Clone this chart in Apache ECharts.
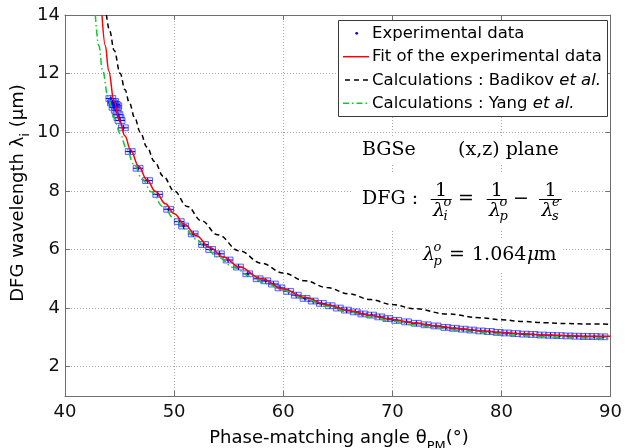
<!DOCTYPE html>
<html><head><meta charset="utf-8">
<script src="https://cdn.jsdelivr.net/npm/echarts@6/dist/echarts.min.js"></script>
<style>html,body{margin:0;padding:0;background:#fff}#c{width:625px;height:448px}</style>
</head><body><div id="c"></div>
<script>
// ---- data ----
const xTicks = [40, 50, 60, 70, 80, 90];
const yTicks = [2, 4, 6, 8, 10, 12, 14];

const expTheta = [44.2, 44.35, 44.45, 44.5, 44.6, 44.7, 44.75, 44.85, 44.95, 45.05, 45.35,
  45.98, 46.7, 47.57, 48.5, 49.5, 50.47, 50.87, 51.75, 52.7, 53.35, 54.15, 54.95, 55.9, 56.75,
  57.7, 58.4, 59.1, 59.7, 60.5, 61.2, 62.0, 62.75, 63.5, 64.3, 65.05, 65.8, 66.6, 67.3, 68.1,
  68.85, 69.6, 70.4, 71.3, 72.2, 73.1, 74.0, 74.9, 75.7, 76.5, 77.3, 78.1, 78.9, 79.7, 80.5,
  81.3, 82.1, 82.9, 83.7, 84.5, 85.3, 86.1, 86.9, 87.7, 88.5, 89.3];
const expLambda = [11.15, 11.0, 11.05, 10.85, 10.95, 10.75, 10.9, 10.6, 10.5, 10.4, 10.15,
  9.34, 8.77, 8.35, 7.88, 7.37, 6.95, 6.8, 6.53, 6.17, 6.0, 5.85, 5.64, 5.4, 5.17,
  5.0, 4.93, 4.82, 4.69, 4.57, 4.44, 4.33, 4.24, 4.16, 4.08, 4.0, 3.93, 3.87, 3.8, 3.76,
  3.7, 3.64, 3.58, 3.53, 3.48, 3.43, 3.39, 3.34, 3.31, 3.28, 3.25, 3.22, 3.2, 3.17, 3.15,
  3.13, 3.11, 3.1, 3.08, 3.07, 3.06, 3.05, 3.04, 3.03, 3.03, 3.02];
const errTheta = 0.45;   // half-width of the angle error bar (deg)
const errLambda = 0.1;   // half-height of the wavelength error bar (um)

const fitTheta = [43.39, 43.7, 44.0, 44.5, 45.0, 45.5, 46.0, 46.75, 47.5, 48.3, 49.2, 50.0, 51.0,
  52.0, 53.3, 54.5, 56, 58, 60, 62, 64, 66, 68, 70, 72, 74, 76, 78, 80, 82, 84, 86, 88, 90];
const fitLambda = [14, 12.95, 12.1, 11.05, 10.4, 9.87, 9.4, 8.84, 8.38, 7.98, 7.56, 7.22, 6.84,
  6.48, 6.06, 5.74, 5.40, 5.0, 4.65, 4.36, 4.11, 3.91, 3.75, 3.61, 3.49, 3.39, 3.30, 3.23, 3.17,
  3.12, 3.08, 3.06, 3.04, 3.035];

const badikovTheta = [43.8, 44.1, 44.5, 45.06, 45.5, 45.9, 46.4, 46.9, 47.5, 48.2, 49.0, 50, 51.2,
  52.5, 54, 56, 58, 60, 62, 64, 66, 68, 70, 72, 75, 78, 80, 82, 84, 86, 88, 90];
const badikovLambda = [14, 13.45, 12.8, 12.0, 11.45, 11.0, 10.48, 10.0, 9.5, 9.0, 8.5, 8.0, 7.47,
  6.98, 6.5, 5.95, 5.53, 5.2, 4.93, 4.7, 4.49, 4.29, 4.12, 3.98, 3.8, 3.67, 3.6, 3.54, 3.5, 3.47,
  3.455, 3.45];

const yangTheta = [42.78, 43.1, 43.45, 43.95, 44.5, 45.06, 45.6, 46.3, 47.1, 47.9, 49.0, 50.0,
  51.0, 52.0, 52.9, 54.0, 55.5, 57, 58.5, 60, 62, 64, 66, 68, 70, 72, 74, 76, 78, 80, 82, 84,
  86, 88, 90];
const yangLambda = [14, 12.95, 12.1, 11.2, 10.5, 9.95, 9.47, 8.92, 8.39, 7.97, 7.46, 7.06,
  6.7, 6.36, 6.05, 5.74, 5.38, 5.08, 4.83, 4.6, 4.31, 4.06, 3.86, 3.69, 3.55, 3.43, 3.33, 3.24,
  3.17, 3.11, 3.06, 3.02, 2.99, 2.975, 2.97];

// ---- chart ----
const pairs = (a, b) => a.map((v, i) => [v, b[i]]);
const AX = '#6e6e6e', LBL = '#111', SANS = 'DejaVu Sans', SERIF = 'DejaVu Serif';

function baseX(pos, labels) {
  return {
    type: 'value', position: pos, min: 40, max: 90, interval: 10,
    axisLine: { show: true, onZero: false, lineStyle: { color: AX, width: 1 } },
    axisTick: { show: true, inside: true, length: 5, lineStyle: { color: AX } },
    axisLabel: { show: labels, color: LBL, fontFamily: SANS, fontSize: 18, margin: 7 },
    splitLine: { show: labels, lineStyle: { color: '#a8a8a8', type: [1, 2], width: 1 } }
  };
}
function baseY(pos, labels) {
  return {
    type: 'value', position: pos, min: 1, max: 14, minInterval: 2, maxInterval: 2, splitNumber: 6,
    axisLine: { show: true, onZero: false, lineStyle: { color: AX, width: 1 } },
    axisTick: { show: true, inside: true, length: 5, lineStyle: { color: AX } },
    axisLabel: { show: labels, color: LBL, fontFamily: SANS, fontSize: 18, margin: 5,
      formatter: v => (yTicks.indexOf(v) >= 0 ? String(v) : '') },
    splitLine: { show: labels, lineStyle: { color: '#a8a8a8', type: [1, 2], width: 1 } }
  };
}

function t(x, y, text, o) {
  o = o || {};
  return {
    type: 'text', x: x, y: y, rotation: o.rot || 0, z: 100,
    style: {
      text: text, fill: o.fill || '#000',
      fontFamily: o.family || SERIF, fontSize: o.size || 19, fontStyle: o.italic ? 'italic' : 'normal',
      align: o.align || 'left', textAlign: o.align || 'left',
      verticalAlign: 'middle', textVerticalAlign: 'middle',
      rich: o.rich
    }
  };
}
function bar(x1, x2, y) {
  return { type: 'line', z: 100, shape: { x1: x1, y1: y, x2: x2, y2: y }, style: { stroke: '#000', lineWidth: 1 } };
}
function box(x, y, w, h) {
  return { type: 'rect', z: 99, shape: { x: x, y: y, width: w, height: h }, style: { fill: '#fff' } };
}
function lam(x, yBase, sub, sup) {
  return [
    t(x, yBase, 'λ', { italic: true, size: 19 }),
    t(x + 10.5, yBase + 6, sub, { italic: true, size: 13 }),
    t(x + 10.5, yBase - 8, sup, { italic: true, size: 13 })
  ];
}

const graphics = [
  box(356, 138, 210, 25), box(353, 173, 217, 57), box(419, 239, 142, 33),
  t(362, 150, 'BGSe'), t(458, 150, '(x,z) plane'),
  t(362, 199, 'DFG :'),
  t(441, 191, '1', { align: 'center' }), bar(430.7, 451.7, 199.5), ...lam(433, 211, 'i', 'o'),
  t(458, 199, '='),
  t(496.7, 191, '1', { align: 'center' }), bar(486.7, 506.7, 199.5), ...lam(489, 211, 'p', 'o'),
  t(513, 199, '−'),
  t(550.5, 191, '1', { align: 'center' }), bar(539, 561.7, 199.5), ...lam(541.5, 211, 's', 'e'),
  ...lam(423, 255.5, 'p', 'o'),
  t(449, 255, '='), t(472, 255, '1.064'), t(527, 255, 'μ', { italic: true }), t(538.5, 255, 'm'),
  // legend
  { type: 'rect', z: 110, shape: { x: 338.5, y: 20.5, width: 269, height: 96 },
    style: { fill: '#fff', stroke: '#3a3a3a', lineWidth: 1 } },
  { type: 'circle', z: 111, shape: { cx: 356.7, cy: 33.3, r: 1.4 }, style: { fill: '#0000ff' } },
  { type: 'line', z: 111, shape: { x1: 343, y1: 56.7, x2: 369, y2: 56.7 }, style: { stroke: '#ff0000', lineWidth: 1.5 } },
  { type: 'line', z: 111, shape: { x1: 345, y1: 80, x2: 369, y2: 80 }, style: { stroke: '#000', lineWidth: 1.5, lineDash: [5, 4] } },
  { type: 'line', z: 111, shape: { x1: 343, y1: 103.3, x2: 369, y2: 103.3 }, style: { stroke: '#10c830', lineWidth: 1.5, lineDash: [6, 3, 1.5, 3] } },
  Object.assign(t(372, 33.5, 'Experimental data', { family: SANS, size: 16.5 }), { z: 112 }),
  Object.assign(t(372, 57, 'Fit of the experimental data', { family: SANS, size: 16.5 }), { z: 112 }),
  Object.assign(t(372, 80.3, '{a|Calculations : Badikov }{b|et al.}', { family: SANS, size: 16.5,
    rich: { a: { fontFamily: SANS, fontSize: 16.5 }, b: { fontFamily: SANS, fontSize: 16.5, fontStyle: 'italic' } } }), { z: 112 }),
  Object.assign(t(372, 103.6, '{a|Calculations : Yang }{b|et al.}', { family: SANS, size: 16.5,
    rich: { a: { fontFamily: SANS, fontSize: 16.5 }, b: { fontFamily: SANS, fontSize: 16.5, fontStyle: 'italic' } } }), { z: 112 }),
  // axis titles
  t(339, 438, '{m|Phase-matching angle θ}{s|PM}{m|(°)}', { family: SANS, size: 18, align: 'center',
    rich: { m: { fontFamily: SANS, fontSize: 18, lineHeight: 30, verticalAlign: 'middle' },
            s: { fontFamily: SANS, fontSize: 13, lineHeight: 13, verticalAlign: 'bottom' } } }),
  t(18, 193, '{m|DFG wavelength λ}{s|i}{m| (μm)}', { family: SANS, size: 18, align: 'center', rot: Math.PI / 2,
    rich: { m: { fontFamily: SANS, fontSize: 18, lineHeight: 28, verticalAlign: 'middle' },
            s: { fontFamily: SANS, fontSize: 13, lineHeight: 13, verticalAlign: 'bottom' } } })
];

const chart = echarts.init(document.getElementById('c'), null, { renderer: 'canvas' });
chart.setOption({
  animation: false,
  backgroundColor: '#fff',
  grid: { left: 65, right: 13, top: 15, bottom: 52, containLabel: false },
  xAxis: [baseX('bottom', true), baseX('top', false)],
  yAxis: [baseY('left', true), baseY('right', false)],
  series: [
    {
      name: 'Error bars', type: 'custom', xAxisIndex: 0, yAxisIndex: 0, clip: true, z: 2,
      data: pairs(expTheta, expLambda),
      renderItem: function (params, api) {
        const x = api.value(0), y = api.value(1);
        const c = api.coord([x, y]);
        const l = api.coord([x - errTheta, y]), r = api.coord([x + errTheta, y]);
        const tp = api.coord([x, y + errLambda]), bt = api.coord([x, y - errLambda]);
        return {
          type: 'group', children: [
            { type: 'rect', shape: { x: l[0], y: tp[1], width: r[0] - l[0], height: bt[1] - tp[1] },
              style: { fill: 'rgba(60,60,255,0.12)', stroke: 'rgba(40,40,255,0.7)', lineWidth: 1 } },
            { type: 'line', shape: { x1: l[0], y1: c[1], x2: r[0], y2: c[1] }, style: { stroke: '#0000ff', lineWidth: 1 } },
            { type: 'line', shape: { x1: c[0], y1: tp[1], x2: c[0], y2: bt[1] }, style: { stroke: '#0000ff', lineWidth: 1 } }
          ]
        };
      }
    },
    { name: 'Experimental data', type: 'scatter', data: pairs(expTheta, expLambda), symbolSize: 3,
      itemStyle: { color: '#0000ff' }, z: 3 },
    { name: 'Fit of the experimental data', type: 'line', data: pairs(fitTheta, fitLambda), symbol: 'none',
      smooth: 0.4, smoothMonotone: 'x', clip: true, lineStyle: { color: '#ff0000', width: 1.5 }, z: 4 },
    { name: 'Calculations : Badikov et al.', type: 'line', data: pairs(badikovTheta, badikovLambda), symbol: 'none',
      smooth: 0.4, smoothMonotone: 'x', clip: true, lineStyle: { color: '#000', width: 1.5, type: [5, 3.5] }, z: 4 },
    { name: 'Calculations : Yang et al.', type: 'line', data: pairs(yangTheta, yangLambda), symbol: 'none',
      smooth: 0.4, smoothMonotone: 'x', clip: true, lineStyle: { color: '#10c830', width: 1.5, type: [7, 3, 1.5, 3] }, z: 5 }
  ],
  graphic: graphics
});
</script></body></html>
